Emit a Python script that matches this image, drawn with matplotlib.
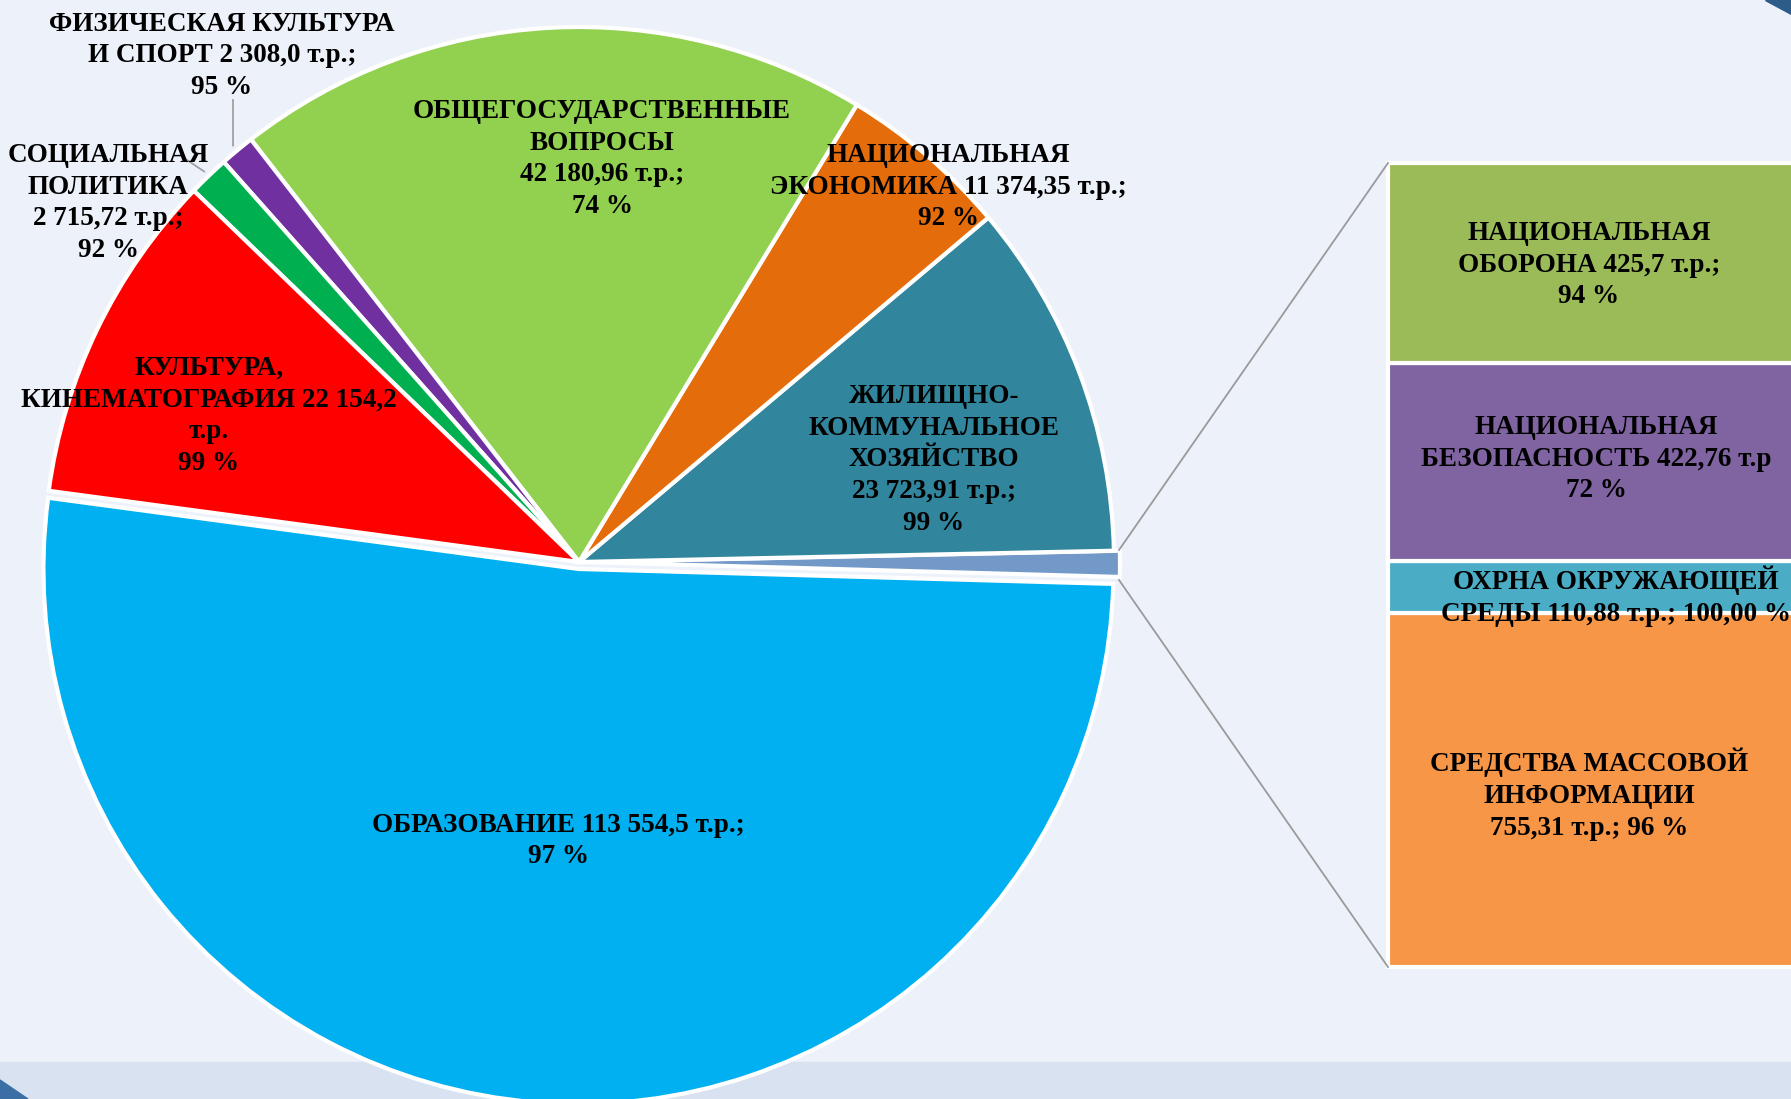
import matplotlib
matplotlib.use('Agg')
import matplotlib.pyplot as plt
from matplotlib.patches import Rectangle, Polygon
import numpy as np

# ---------------- data ----------------
pie_labels = [
    "ЖИЛИЩНО-\nКОММУНАЛЬНОЕ\nХОЗЯЙСТВО\n23 723,91 т.р.;\n99 %",
    "НАЦИОНАЛЬНАЯ\nЭКОНОМИКА 11 374,35 т.р.;\n92 %",
    "ОБЩЕГОСУДАРСТВЕННЫЕ\nВОПРОСЫ\n42 180,96 т.р.;\n74 %",
    "ФИЗИЧЕСКАЯ КУЛЬТУРА\nИ СПОРТ 2 308,0 т.р.;\n95 %",
    "СОЦИАЛЬНАЯ\nПОЛИТИКА\n2 715,72 т.р.;\n92 %",
    "КУЛЬТУРА,\nКИНЕМАТОГРАФИЯ 22 154,2\nт.р.\n99 %",
    "ОБРАЗОВАНИЕ 113 554,5 т.р.;\n97 %",
]
pie_values = [23723.91, 11374.35, 42180.96, 2308.0, 2715.72, 22154.2, 113554.5]
pie_colors = ["#31859C", "#E46C0A", "#92D050", "#7030A0", "#00B050", "#FF0000", "#00B0F0"]
other_color = "#7399C9"

bar_labels = [
    "НАЦИОНАЛЬНАЯ\nОБОРОНА 425,7 т.р.;\n94 %",
    "НАЦИОНАЛЬНАЯ\nБЕЗОПАСНОСТЬ 422,76 т.р\n72 %",
    "ОХРНА ОКРУЖАЮЩЕЙ\nСРЕДЫ 110,88 т.р.; 100,00 %",
    "СРЕДСТВА МАССОВОЙ\nИНФОРМАЦИИ\n755,31 т.р.; 96 %",
]
bar_values = [425.7, 422.76, 110.88, 755.31]
bar_colors = ["#9BBB59", "#8064A2", "#4BACC6", "#F79646"]

# ---------------- layout ----------------
W, H = 1791, 1099
fig = plt.figure(figsize=(W / 100, H / 100), dpi=100)
fig.patch.set_facecolor('#EDF1FA')

FONT = dict(family=['Liberation Serif', 'DejaVu Serif'], weight='bold', size=19.5, color='black')
LS = 1.36

bg = fig.add_axes([0, 0, 1, 1])
bg.set_xlim(0, W); bg.set_ylim(H, 0); bg.axis('off')
bg.add_patch(Rectangle((0, 1062), W, 40, color='#D9E2F0', zorder=0))
bg.add_patch(Polygon([[0, 1080], [28, 1099], [0, 1099]], color='#3A6EA5', zorder=1))
bg.add_patch(Polygon([[1765, 0], [1791, 0], [1791, 14]], color='#2E5C8A', zorder=1))

# pie axes (pixel data coordinates, y up)
ax = fig.add_axes([0, 0, 1, 1])
ax.axis('off')
cx, cy, R = 579, H - 562, 535
values = [sum(bar_values)] + pie_values
colors = [other_color] + pie_colors
explode = [6, 0, 0, 0, 0, 0, 0, 7]
wedges, _ = ax.pie(values, colors=colors, startangle=-1.6, counterclock=True,
                   radius=R, center=(cx, cy), explode=explode, frame=True,
                   wedgeprops=dict(edgecolor='white', linewidth=3))
ax.set_xlim(0, W); ax.set_ylim(0, H)
ax.axis('off')

# bar axes
bx0, bx1, by_top, by_bot = 1388, 1800, 163, 967
bax = fig.add_axes([bx0 / W, (H - by_bot) / H, (bx1 - bx0) / W, (by_bot - by_top) / H])
bax.axis('off')
bottom = 0
for i in list(range(len(bar_values)))[::-1]:
    bax.bar(0.5, bar_values[i], width=1, bottom=bottom, color=bar_colors[i],
            edgecolor='white', linewidth=3, clip_on=False)
    bottom += bar_values[i]
bax.set_xlim(0, 1); bax.set_ylim(0, sum(bar_values))

# overlay axes for texts and lines
ov = fig.add_axes([0, 0, 1, 1])
ov.set_xlim(0, W); ov.set_ylim(0, H); ov.axis('off')
ov.patch.set_alpha(0)

pie_label_pos = [(934, 460), (948, 187), (602, 159), (222, 56), (108, 203), (209, 416), (558, 841)]
for lab, (x, y) in zip(pie_labels, pie_label_pos):
    ov.text(x, H - y, lab, ha='center', va='center', multialignment='center',
            linespacing=LS, **FONT)

bar_label_pos = [(1589, 265), (1596, 459), (1616, 596), (1589, 794)]
for lab, (x, y) in zip(bar_labels, bar_label_pos):
    ov.text(x, H - y, lab, ha='center', va='center', multialignment='center',
            linespacing=LS, **FONT)

# leader lines for small slices
def mid_point(w, r):
    th = np.deg2rad((w.theta1 + w.theta2) / 2)
    return w.center[0] + r * np.cos(th), w.center[1] + r * np.sin(th)

for idx, start in [(4, (233, 100)), (5, (184, 158))]:
    ex, ey = mid_point(wedges[idx], R * 1.012)
    ov.plot([start[0], ex], [H - start[1], ey], color='#A0A0A0', lw=1.3)

# connector lines
ov.plot([1119, bx0], [H - 550, H - by_top], color='#9A9A9A', lw=1.3)
ov.plot([1119, bx0], [H - 580, H - by_bot], color='#9A9A9A', lw=1.3)

fig.savefig('out.png', dpi=100, facecolor=fig.get_facecolor())
